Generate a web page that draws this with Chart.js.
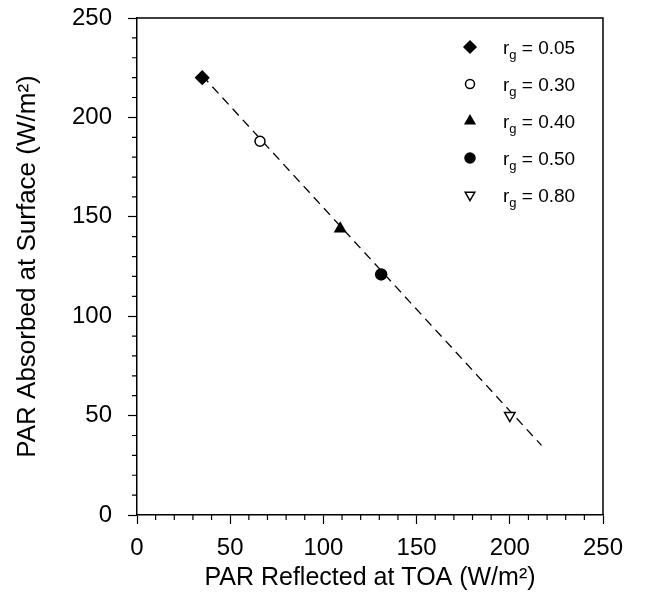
<!DOCTYPE html>
<html>
<head>
<meta charset="utf-8">
<script src="https://cdn.jsdelivr.net/npm/chart.js@4"></script>
<style>
  html, body { margin: 0; padding: 0; background: #fff; }
  #wrap { width: 655px; height: 600px; }
</style>
</head>
<body>
<div id="wrap"><canvas id="myChart"></canvas></div>
<script>
// values
const reflected = [35, 66, 109, 131, 200];
const absorbed = [220, 188, 144, 121, 50];
const albedo = ["0.05", "0.30", "0.40", "0.50", "0.80"];
const fitX = [35, 217];
const fitY = [221, 35];
const xTicks = [0, 50, 100, 150, 200, 250];
const yTicks = [0, 50, 100, 150, 200, 250];

const markerStyle = ["rectRot", "circle", "triangle", "circle", "triangle"];
const markerFill = ["#000", "#fff", "#000", "#000", "#fff"];
const markerRot = [0, 0, 0, 0, 180];
const markerSize = [6.5, 5, 6, 5.5, 6];

const fontFamily = "'Liberation Sans', Arial, Helvetica, sans-serif";

const pointSets = reflected.map((x, i) => ({
    label: "rg = " + albedo[i],
    data: [{ x: x, y: absorbed[i] }],
    pointStyle: markerStyle[i],
    pointRotation: markerRot[i],
    pointRadius: markerSize[i],
    pointBackgroundColor: markerFill[i],
    pointBorderColor: "#000",
    pointBorderWidth: 1.5,
    showLine: false,
    order: 1
}));

const fitLine = {
    type: "line",
    label: "fit",
    data: fitX.map((x, i) => ({ x: x, y: fitY[i] })),
    borderColor: "#000",
    borderWidth: 1.3,
    borderDash: [9, 6],
    pointRadius: 0,
    fill: false,
    order: 2
};

// minor ticks, top/right frame and the legend with subscripts
const extras = {
    id: "extras",
    afterDraw(chart) {
        const ctx = chart.ctx;
        const area = chart.chartArea;
        const xs = chart.scales.x;
        const ys = chart.scales.y;
        ctx.save();
        ctx.strokeStyle = "#000";
        ctx.lineWidth = 1.2;
        ctx.beginPath();
        for (let v = 10; v < 250; v += 10) {
            if (v % 50 === 0) continue;
            const px = xs.getPixelForValue(v);
            ctx.moveTo(px, area.bottom);
            ctx.lineTo(px, area.bottom + 5);
            const py = ys.getPixelForValue(v);
            ctx.moveTo(area.left, py);
            ctx.lineTo(area.left - 5, py);
        }
        ctx.stroke();

        ctx.lineWidth = 1.5;
        ctx.beginPath();
        ctx.moveTo(area.left, area.top);
        ctx.lineTo(area.right, area.top);
        ctx.lineTo(area.right, area.bottom);
        ctx.stroke();

        // legend
        const mx = area.left + 333;
        const tx = mx + 33;
        let y = area.top + 29;
        ctx.textBaseline = "alphabetic";
        albedo.forEach((a, i) => {
            ctx.fillStyle = markerFill[i];
            ctx.strokeStyle = "#000";
            ctx.lineWidth = 1.5;
            Chart.helpers.drawPoint(ctx, {
                pointStyle: markerStyle[i],
                rotation: markerRot[i],
                radius: markerSize[i] - 0.5,
                borderWidth: 1.5
            }, mx, y);
            ctx.fillStyle = "#000";
            const base = y + 7;
            ctx.font = "19px " + fontFamily;
            ctx.fillText("r", tx, base);
            let w = ctx.measureText("r").width;
            ctx.font = "13px " + fontFamily;
            ctx.fillText("g", tx + w, base + 5);
            w += ctx.measureText("g").width;
            ctx.font = "19px " + fontFamily;
            ctx.fillText(" = " + a, tx + w, base);
            y += 37;
        });
        ctx.restore();
    }
};

const axisCommon = {
    type: "linear",
    min: 0,
    max: 250,
    border: { display: true, color: "#000", width: 1.5 },
    grid: {
        display: true,
        drawOnChartArea: false,
        drawTicks: true,
        tickLength: 9,
        tickColor: "#000",
        tickWidth: 1.2
    }
};

new Chart(document.getElementById("myChart"), {
    type: "scatter",
    data: { datasets: [...pointSets, fitLine] },
    options: {
        responsive: true,
        maintainAspectRatio: false,
        animation: false,
        layout: { padding: { top: 18, right: 52, left: 0, bottom: 0 } },
        scales: {
            x: {
                ...axisCommon,
                position: "bottom",
                afterBuildTicks: (s) => { s.ticks = xTicks.map(v => ({ value: v })); },
                afterFit: (s) => { s.height = 85; s.paddingLeft = 0; s.paddingRight = 0; },
                ticks: {
                    color: "#000",
                    padding: 10,
                    maxRotation: 0,
                    font: { family: fontFamily, size: 24 }
                },
                title: {
                    display: true,
                    text: "PAR Reflected at TOA (W/m\u00B2)",
                    color: "#000",
                    font: { family: fontFamily, size: 25 },
                    padding: { top: 0, bottom: 7 }
                }
            },
            y: {
                ...axisCommon,
                position: "left",
                afterBuildTicks: (s) => { s.ticks = yTicks.map(v => ({ value: v })); },
                afterFit: (s) => { s.width = 137; s.paddingTop = 0; s.paddingBottom = 0; },
                ticks: {
                    color: "#000",
                    padding: 16,
                    font: { family: fontFamily, size: 24 }
                },
                title: {
                    display: true,
                    text: "PAR Absorbed at Surface (W/m\u00B2)",
                    color: "#000",
                    font: { family: fontFamily, size: 26 },
                    padding: { top: 12, bottom: 0 }
                }
            }
        },
        plugins: {
            legend: { display: false },
            tooltip: { enabled: false }
        }
    },
    plugins: [extras]
});
</script>
</body>
</html>
